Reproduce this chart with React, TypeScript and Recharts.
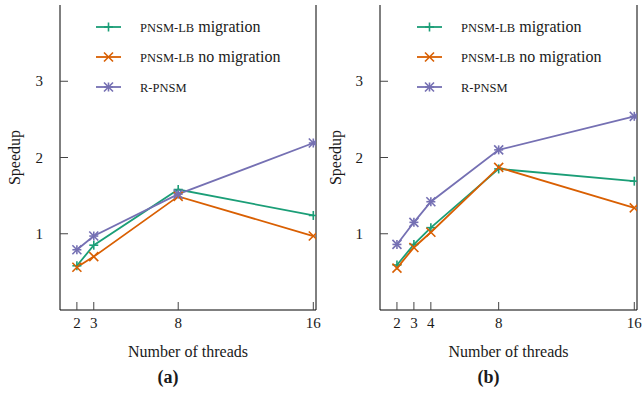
import React from 'react';
import { LineChart, Line, XAxis, YAxis, Legend } from 'recharts';

const FONT = "'Liberation Serif', 'DejaVu Serif', serif";

// panel (a)
const threadsA = [2, 3, 8, 16];
const migA = [0.58, 0.85, 1.58, 1.24];
const noMigA = [0.56, 0.7, 1.49, 0.97];
const rpnsmA = [0.79, 0.97, 1.52, 2.19];

// panel (b)
const threadsB = [2, 3, 4, 8, 16];
const migB = [0.59, 0.86, 1.08, 1.85, 1.69];
const noMigB = [0.55, 0.82, 1.02, 1.87, 1.34];
const rpnsmB = [0.86, 1.15, 1.42, 2.1, 2.54];

const yTicks = [1, 2, 3];
const seriesKeys = ['mig', 'nomig', 'rpnsm'];
const seriesNames = ['PNSM-LB migration', 'PNSM-LB no migration', 'R-PNSM'];
const seriesColors = ['#1b9e77', '#d95f02', '#7570b3'];
const seriesMarks = ['plus', 'cross', 'star'];

const TICK_COLOR = '#444';
const TEXT_COLOR = '#1a1a1a';
const LINE_W = 1.8;
const txt = { fontFamily: FONT };

function Mark({ cx, cy, kind, color, r = 4.5 }: any) {
  if (cx == null || cy == null) return null;
  const plus = (
    <>
      <line x1={cx - r} x2={cx + r} y1={cy} y2={cy} />
      <line x1={cx} x2={cx} y1={cy - r} y2={cy + r} />
    </>
  );
  const cross = (
    <>
      <line x1={cx - r} x2={cx + r} y1={cy - r} y2={cy + r} />
      <line x1={cx - r} x2={cx + r} y1={cy + r} y2={cy - r} />
    </>
  );
  return (
    <g stroke={color} strokeWidth={1.6} fill="none">
      {kind !== 'cross' && plus}
      {kind !== 'plus' && cross}
    </g>
  );
}

function BottomTick({ x, y, payload }: any) {
  return (
    <g>
      <line x1={x} x2={x} y1={y} y2={y - 8} stroke={TICK_COLOR} />
      <text x={x} y={y + 18} textAnchor="middle" fontSize={15} style={txt} fill={TEXT_COLOR}>
        {payload.value}
      </text>
    </g>
  );
}

function LeftTick({ x, y, payload }: any) {
  return (
    <g>
      <line x1={x} x2={x + 8} y1={y} y2={y} stroke={TICK_COLOR} />
      <text x={x - 17} y={y + 5} textAnchor="end" fontSize={15} style={txt} fill={TEXT_COLOR}>
        {payload.value}
      </text>
    </g>
  );
}

function RightTick({ x, y }: any) {
  return <line x1={x - 8} x2={x} y1={y} y2={y} stroke={TICK_COLOR} />;
}

function XTitle({ viewBox, caption }: any) {
  if (!viewBox) return null;
  const cx = viewBox.x + viewBox.width / 2;
  return (
    <g fill={TEXT_COLOR}>
      <text x={cx} y={viewBox.y + 47} textAnchor="middle" fontSize={16} style={txt}>
        Number of threads
      </text>
      <text x={cx - 20} y={viewBox.y + 73} textAnchor="middle" fontSize={18} fontWeight="bold" style={txt}>
        {caption}
      </text>
    </g>
  );
}

function YTitle({ viewBox }: any) {
  if (!viewBox) return null;
  const x = viewBox.x + 14;
  const y = viewBox.y + viewBox.height / 2;
  return (
    <text
      x={x}
      y={y}
      transform={`rotate(-90 ${x} ${y})`}
      textAnchor="middle"
      dominantBaseline="central"
      fontSize={16}
      style={txt}
      fill={TEXT_COLOR}
    >
      Speedup
    </text>
  );
}

// acronyms are set in small caps
function LegendLabel({ text, x, y }: any) {
  const words = text.split(' ');
  return (
    <text x={x} y={y} style={txt} fill={TEXT_COLOR}>
      {words.map((w: string, i: number) => (
        <tspan key={i} fontSize={/^[A-Z-]+$/.test(w) ? 12.5 : 16}>
          {(i > 0 ? ' ' : '') + w}
        </tspan>
      ))}
    </text>
  );
}

function LegendBox({ payload }: any) {
  if (!payload) return null;
  return (
    <svg width={230} height={100}>
      {payload.map((entry: any, i: number) => {
        const y = 15 + i * 30;
        const idx = seriesKeys.indexOf(entry.dataKey);
        return (
          <g key={entry.value}>
            <line x1={6} x2={31} y1={y} y2={y} stroke={entry.color} strokeWidth={LINE_W} />
            <Mark cx={18.5} cy={y} kind={seriesMarks[idx]} color={entry.color} />
            <LegendLabel text={entry.value} x={50} y={y + 5} />
          </g>
        );
      })}
    </svg>
  );
}

function Panel({ threads, mig, noMig, rpnsm, caption, left, yWidth }: any) {
  const data = threads.map((t: number, i: number) => ({
    threads: t,
    mig: mig[i],
    nomig: noMig[i],
    rpnsm: rpnsm[i],
  }));
  return (
    <div style={{ position: 'absolute', left, top: 0, fontFamily: FONT }}>
      <LineChart width={321} height={393} data={data} margin={{ top: 5, right: 0, left: 0, bottom: 0 }}>
        <XAxis
          xAxisId="top"
          orientation="top"
          type="number"
          dataKey="threads"
          domain={[1, 16.16]}
          allowDataOverflow
          height={0}
          tick={false}
          tickLine={false}
          axisLine={{ stroke: '#000' }}
        />
        <XAxis
          type="number"
          dataKey="threads"
          domain={[1, 16.16]}
          allowDataOverflow
          ticks={threads}
          interval={0}
          height={83}
          tickSize={0}
          tickMargin={0}
          tickLine={false}
          axisLine={{ stroke: '#000' }}
          tick={<BottomTick />}
          label={<XTitle caption={caption} />}
        />
        <YAxis
          type="number"
          domain={[0, 4]}
          allowDataOverflow
          ticks={yTicks}
          interval={0}
          width={yWidth}
          tickSize={0}
          tickMargin={0}
          tickLine={false}
          axisLine={{ stroke: '#000' }}
          tick={<LeftTick />}
          label={<YTitle />}
        />
        <YAxis
          yAxisId="right"
          orientation="right"
          type="number"
          domain={[0, 4]}
          ticks={yTicks}
          interval={0}
          width={5}
          tickSize={0}
          tickMargin={0}
          tickLine={false}
          axisLine={{ stroke: '#000' }}
          tick={<RightTick />}
        />
        <Legend
          layout="horizontal"
          verticalAlign="middle"
          align="center"
          wrapperStyle={{ left: 90, top: 12, width: 230, height: 100 }}
          content={<LegendBox />}
        />
        {seriesKeys.map((key, i) => (
          <Line
            key={key}
            dataKey={key}
            name={seriesNames[i]}
            stroke={seriesColors[i]}
            strokeWidth={LINE_W}
            isAnimationActive={false}
            activeDot={false}
            dot={(p: any) => (
              <Mark key={`${key}-${p.index}`} cx={p.cx} cy={p.cy} kind={seriesMarks[i]} color={seriesColors[i]} />
            )}
          />
        ))}
      </LineChart>
    </div>
  );
}

export default function App() {
  return (
    <div style={{ position: 'absolute', left: 0, top: 0, width: 642, height: 393, background: '#fff' }}>
      <Panel threads={threadsA} mig={migA} noMig={noMigA} rpnsm={rpnsmA} caption="(a)" left={0} yWidth={60} />
      <Panel threads={threadsB} mig={migB} noMig={noMigB} rpnsm={rpnsmB} caption="(b)" left={321} yWidth={59} />
    </div>
  );
}
